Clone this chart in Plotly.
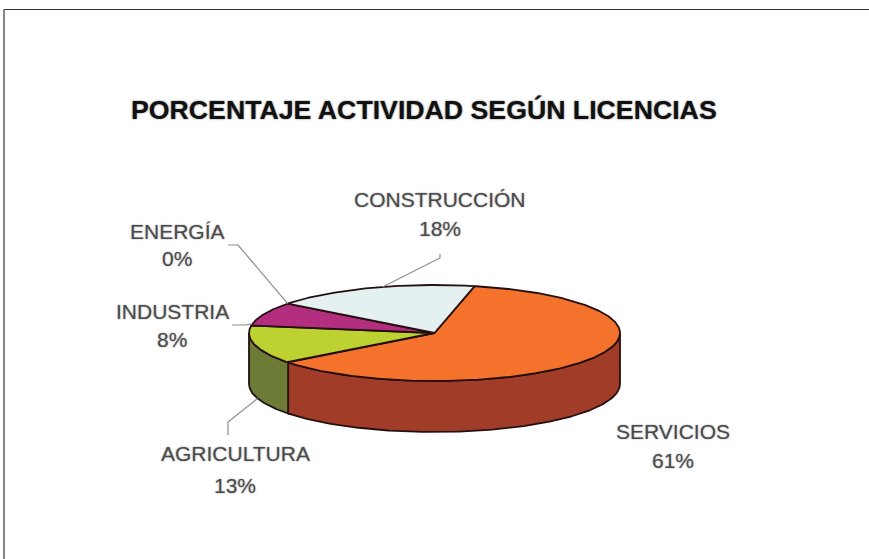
import numpy as np
import plotly.graph_objects as go

# ---- data ----
categories = ["SERVICIOS", "AGRICULTURA", "INDUSTRIA", "ENERGÍA", "CONSTRUCCIÓN"]
percentages = [61, 13, 8, 0, 18]
title_text = "PORCENTAJE ACTIVIDAD SEGÚN LICENCIAS"

# ---- styles ----
top_colors = ["#F4722B", "#BDD130", "#B42E80", "#8A2A6A", "#E5F0F0"]
wall_colors = ["#A03C27", "#6C7C36", "#6C1C4C", "#551040", "#8A9090"]
outline = "#241010"
text_color = "#4A4A4A"
text_font = "Liberation Sans, Arial, sans-serif"

# ---- projection of the disc onto the page ----
W, H = 869, 559
CX, CY, RX, RY, DEPTH = 434.5, 333.0, 185.5, 48.0, 51.0
START_DEG = 12.5


def rim(a_deg, dy=0.0):
    """Clockwise angle from the top of the disc -> page position."""
    a = np.radians(a_deg)
    return CX + RX * np.sin(a), CY - RY * np.cos(a) + dy


def arc(a0, a1):
    return np.linspace(a0, a1, max(int(abs(a1 - a0) * 2), 2))


fig = go.Figure()


def poly(xs, ys, fill, lw=1.8, lc=outline):
    fig.add_trace(go.Scatter(x=xs, y=ys, mode="lines", fill="toself", fillcolor=fill,
                             line=dict(color=lc, width=lw), hoverinfo="skip", showlegend=False))


edges = START_DEG + 3.6 * np.concatenate([[0], np.cumsum(percentages)])

# side walls: only the front half of the rim (90..270 degrees) is visible
for i in range(len(categories)):
    a0, a1 = max(edges[i], 90), min(edges[i + 1], 270)
    if a1 <= a0:
        continue
    t = arc(a0, a1)
    xt, yt = rim(t)
    xb, yb = rim(t[::-1], DEPTH)
    poly(np.r_[xt, xb, xt[0]], np.r_[yt, yb, yt[0]], wall_colors[i])

# top faces
for i in range(len(categories)):
    if percentages[i] == 0:
        continue
    t = arc(edges[i], edges[i + 1])
    xt, yt = rim(t)
    poly(np.r_[CX, xt, CX], np.r_[CY, yt, CY], top_colors[i])

# ---- leader lines: from the label elbow to a point on the rim ----
leader_angles = {"AGRICULTURA": (edges[1] + edges[2]) / 2 - 3,
                 "INDUSTRIA": edges[2] + 2,
                 "ENERGÍA": edges[3],
                 "CONSTRUCCIÓN": edges[4] + 36}
leader_paths = {"AGRICULTURA": [(228, 435), (228, 422)],
                "INDUSTRIA": [(232, 325), (245, 325)],
                "ENERGÍA": [(228, 245), (238, 245)],
                "CONSTRUCCIÓN": [(440, 254), (440, 258)]}
leader_drop = {"AGRICULTURA": DEPTH}
for name, path in leader_paths.items():
    ex, ey = rim(leader_angles[name], leader_drop.get(name, 0.0))
    fig.add_trace(go.Scatter(x=[p[0] for p in path] + [ex], y=[p[1] for p in path] + [ey],
                             mode="lines", line=dict(color="#8C8C8C", width=1.2),
                             hoverinfo="skip", showlegend=False))

# ---- labels ----
label_pos = {"SERVICIOS": (673, 431, 460), "AGRICULTURA": (235, 453, 485),
             "INDUSTRIA": (172, 311, 339), "ENERGÍA": (177, 231, 258),
             "CONSTRUCCIÓN": (440, 199, 228)}
annotations = []
soft = "0 0 2px #9A9A9A"
for name, pct in zip(categories, percentages):
    x, y1, y2 = label_pos[name]
    for txt, y in ((name, y1), (f"{pct}%", y2)):
        annotations.append(dict(x=x, y=y, xref="x", yref="y", text=txt, showarrow=False,
                                xanchor="center", yanchor="middle",
                                font=dict(family=text_font, size=21, color=text_color, shadow=soft)))
annotations.append(dict(x=423.5, y=110, xref="x", yref="y", text=f"<b>{title_text}</b>", showarrow=False,
                        xanchor="center", yanchor="middle",
                        font=dict(family=text_font, size=26.7, color="#111111", shadow="0 0 2px #666666")))

# ---- page frame ----
shapes = [dict(type="line", x0=4, x1=W, y0=9.5, y1=9.5, xref="x", yref="y", line=dict(color="#333333", width=1.2)),
          dict(type="line", x0=4, x1=4, y0=9.5, y1=H, xref="x", yref="y", line=dict(color="#333333", width=1.2))]

fig.update_layout(width=W, height=H, margin=dict(l=0, r=0, t=0, b=0),
                  paper_bgcolor="white", plot_bgcolor="white", showlegend=False,
                  xaxis=dict(range=[0, W], visible=False, fixedrange=True),
                  yaxis=dict(range=[H, 0], visible=False, fixedrange=True),
                  annotations=annotations, shapes=shapes)
fig.write_html("out.html", config={"displayModeBar": False},
               post_script="document.body.style.margin='0';document.body.style.overflow='hidden';")
